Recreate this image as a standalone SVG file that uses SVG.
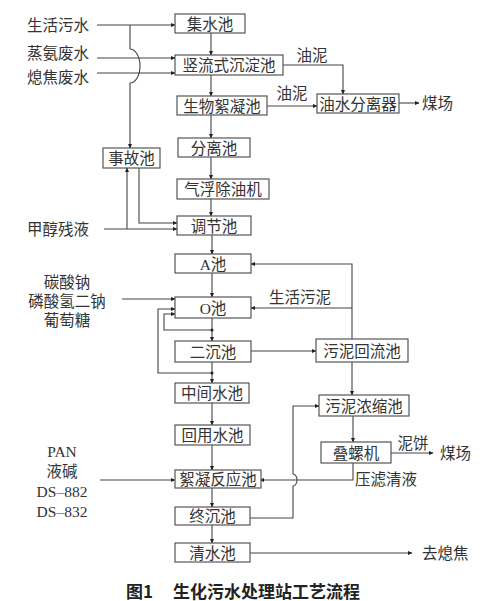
<svg xmlns="http://www.w3.org/2000/svg" width="497" height="601" viewBox="0 0 497 601">
<defs>
<marker id="ar" markerWidth="5" markerHeight="5" refX="4" refY="2.5" orient="auto" markerUnits="userSpaceOnUse">
<path d="M0,0.5 L4.5,2.5 L0,4.5 Z" fill="#222"/>
</marker>
<style>
.box{fill:#fff;stroke:#555;stroke-width:1.2}
.t{font-family:"Liberation Serif","Noto Sans CJK SC",serif;font-size:15.5px;fill:#333;dominant-baseline:central}
.c{text-anchor:middle}
.e{text-anchor:end}
.ln{fill:none;stroke:#444;stroke-width:1.1}
.ttl{font-family:"Noto Sans CJK SC",sans-serif;font-size:17px;font-weight:bold;fill:#222;dominant-baseline:central}
</style>
</defs>
<rect width="497" height="601" fill="#fff"/>
<g id="connectors">
<path class="ln" d="M97,25 H175" marker-end="url(#ar)"/>
<path class="ln" d="M97,58 H175" marker-end="url(#ar)"/>
<path class="ln" d="M97,73 H175" marker-end="url(#ar)"/>
<path class="ln" d="M130,25 V49 A10,17 0 0 1 130,83 V148" marker-end="url(#ar)"/>
<path class="ln" d="M211,33 V55" marker-end="url(#ar)"/>
<path class="ln" d="M211,75 V96" marker-end="url(#ar)"/>
<path class="ln" d="M211,115 V138" marker-end="url(#ar)"/>
<path class="ln" d="M211,157 V179" marker-end="url(#ar)"/>
<path class="ln" d="M211,199 V216" marker-end="url(#ar)"/>
<path class="ln" d="M212,235 V254" marker-end="url(#ar)"/>
<path class="ln" d="M212,273 V297" marker-end="url(#ar)"/>
<path class="ln" d="M212,318 V341" marker-end="url(#ar)"/>
<path class="ln" d="M212,362 V383" marker-end="url(#ar)"/>
<path class="ln" d="M212,403 V425" marker-end="url(#ar)"/>
<path class="ln" d="M212,445 V470" marker-end="url(#ar)"/>
<path class="ln" d="M212,488 V507" marker-end="url(#ar)"/>
<path class="ln" d="M212,525 V543" marker-end="url(#ar)"/>
<path class="ln" d="M139,168 V223 H177" marker-end="url(#ar)"/>
<path class="ln" d="M104,229 H177" marker-end="url(#ar)"/>
<path class="ln" d="M127,229 V168" marker-end="url(#ar)"/>
<path class="ln" d="M283,65 H343 V94" marker-end="url(#ar)"/>
<path class="ln" d="M267,106 H317" marker-end="url(#ar)"/>
<path class="ln" d="M399,103 H419" marker-end="url(#ar)"/>
<path class="ln" d="M352,339 V264 H251" marker-end="url(#ar)"/>
<path class="ln" d="M352,308 H251" marker-end="url(#ar)"/>
<path class="ln" d="M251,351 H316" marker-end="url(#ar)"/>
<path class="ln" d="M352,362 V395" marker-end="url(#ar)"/>
<path class="ln" d="M250,518 H293 V486 A4,6 0 0 0 293,474 V406 H319" marker-end="url(#ar)"/>
<path class="ln" d="M353,416 V442" marker-end="url(#ar)"/>
<path class="ln" d="M391,453 H433" marker-end="url(#ar)"/>
<path class="ln" d="M353,463 V480 H260" marker-end="url(#ar)"/>
<path class="ln" d="M250,553 H412" marker-end="url(#ar)"/>
<path class="ln" d="M122,299 H175" marker-end="url(#ar)"/>
<path class="ln" d="M212,330 H164 V314 H175" marker-end="url(#ar)"/>
<path class="ln" d="M212,373 H158 V309 H175" marker-end="url(#ar)"/>
<path class="ln" d="M100,480 H175" marker-end="url(#ar)"/>
<circle cx="212" cy="330" r="1.5" fill="#222"/>
<circle cx="212" cy="373" r="1.5" fill="#222"/>
</g>
<g id="n-jishui"><rect class="box" x="175" y="14" width="70" height="19"/><text class="t c" x="210" y="24">集水池</text></g>
<g id="n-shuliu"><rect class="box" x="175" y="55" width="108" height="20"/><text class="t c" x="229" y="65">竖流式沉淀池</text></g>
<g id="n-shengwu"><rect class="box" x="177" y="96" width="90" height="19"/><text class="t c" x="222" y="106">生物絮凝池</text></g>
<g id="n-fenli"><rect class="box" x="178" y="138" width="72" height="19"/><text class="t c" x="214" y="148">分离池</text></g>
<g id="n-qifu"><rect class="box" x="177" y="179" width="92" height="20"/><text class="t c" x="223" y="189">气浮除油机</text></g>
<g id="n-tiaojie"><rect class="box" x="177" y="216" width="74" height="19"/><text class="t c" x="214" y="226">调节池</text></g>
<g id="n-a"><rect class="box" x="175" y="254" width="76" height="19"/><text class="t c" x="213" y="264">A池</text></g>
<g id="n-o"><rect class="box" x="175" y="297" width="76" height="21"/><text class="t c" x="213" y="308">O池</text></g>
<g id="n-erchen"><rect class="box" x="175" y="341" width="76" height="21"/><text class="t c" x="213" y="352">二沉池</text></g>
<g id="n-zhongjian"><rect class="box" x="175" y="383" width="74" height="20"/><text class="t c" x="212" y="393">中间水池</text></g>
<g id="n-huiyong"><rect class="box" x="175" y="425" width="75" height="20"/><text class="t c" x="212.5" y="435">回用水池</text></g>
<g id="n-xuning"><rect class="box" x="175" y="470" width="86" height="18"/><text class="t c" x="218" y="479">絮凝反应池</text></g>
<g id="n-zhongchen"><rect class="box" x="175" y="507" width="75" height="18"/><text class="t c" x="212.5" y="516">终沉池</text></g>
<g id="n-qingshui"><rect class="box" x="175" y="543" width="75" height="19"/><text class="t c" x="212.5" y="553">清水池</text></g>
<g id="n-shigu"><rect class="box" x="103" y="148" width="57" height="20"/><text class="t c" x="131.5" y="158">事故池</text></g>
<g id="n-youshui"><rect class="box" x="317" y="94" width="82" height="19"/><text class="t c" x="358" y="104">油水分离器</text></g>
<g id="n-huiliu"><rect class="box" x="316" y="339" width="92" height="23"/><text class="t c" x="362" y="351">污泥回流池</text></g>
<g id="n-nongsuo"><rect class="box" x="319" y="395" width="90" height="21"/><text class="t c" x="364" y="406">污泥浓缩池</text></g>
<g id="n-dieluo"><rect class="box" x="321" y="442" width="70" height="21"/><text class="t c" x="356" y="453">叠螺机</text></g>
<g id="labels">
<text class="t e" x="89" y="25">生活污水</text>
<text class="t e" x="89" y="53">蒸氨废水</text>
<text class="t e" x="89" y="77">熄焦废水</text>
<text class="t e" x="89" y="229">甲醇残液</text>
<text class="t c" x="67" y="282">碳酸钠</text>
<text class="t c" x="67" y="301">磷酸氢二钠</text>
<text class="t c" x="67" y="320">葡萄糖</text>
<text class="t c" x="62" y="451">PAN</text>
<text class="t c" x="62" y="471">液碱</text>
<text class="t c" x="62" y="491">DS–882</text>
<text class="t c" x="62" y="511">DS–832</text>
<text class="t c" x="312" y="55">油泥</text>
<text class="t c" x="292" y="93">油泥</text>
<text class="t" x="422" y="103">煤场</text>
<text class="t c" x="300" y="297">生活污泥</text>
<text class="t c" x="413" y="443">泥饼</text>
<text class="t" x="440" y="453">煤场</text>
<text class="t" x="355" y="479">压滤清液</text>
<text class="t" x="422" y="553">去熄焦</text>
<text class="ttl" x="126" y="590">图1</text>
<text class="ttl" x="173" y="590">生化污水处理站工艺流程</text>
</g>
</svg>
